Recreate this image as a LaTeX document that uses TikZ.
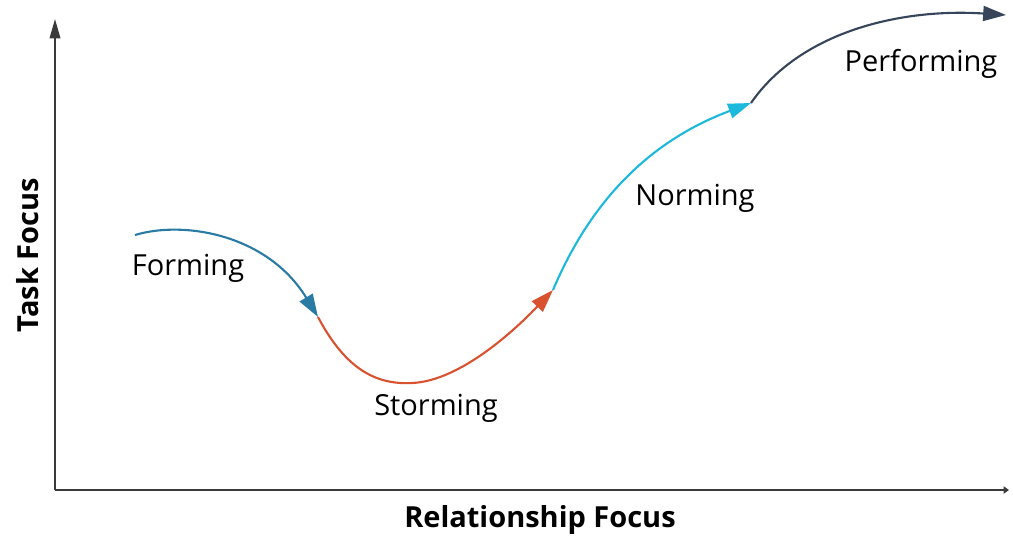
\documentclass[tikz,border=0pt]{standalone}
\usepackage{fontspec}
\setmainfont{Open Sans}
\usetikzlibrary{arrows.meta}
\definecolor{formC}{HTML}{2A7BA4}
\definecolor{stormC}{HTML}{D9522F}
\definecolor{normC}{HTML}{1DB9DC}
\definecolor{perfC}{HTML}{36455A}
\definecolor{axisC}{HTML}{3A3A3A}
\begin{document}
\begin{tikzpicture}[
    x=0.02cm, y=-0.02cm,
    every node/.style={font=\fontsize{16.5}{20}\selectfont},
    stage/.style={inner sep=0pt, anchor=center},
    axlabel/.style={inner sep=0pt, font=\fontsize{16.5}{20}\selectfont\bfseries},
    axis/.style={line width=1.1pt, draw=axisC},
    phase/.style={line width=1.2pt, -{Triangle[length=13pt,width=8.5pt]}}
]
  \useasboundingbox (0,0) rectangle (1013,538);

  % --- Axes ---
  \coordinate (origin) at (55,490);
  \coordinate (ytop)   at (55,19);
  \coordinate (xend)   at (1009,490);
  \draw[axis, -{Triangle[length=11pt,width=6pt]}] (origin) -- (ytop);
  \draw[axis, -{Triangle[length=3pt,width=4pt]}] (origin) -- (xend);

  \node[axlabel] (xlab) at (540,520) {Relationship Focus};
  \node[axlabel, rotate=90] (ylab) at (28,255) {Task Focus};

  % --- Curve points ---
  \coordinate (fStart) at (135,235);
  \coordinate (fEnd)   at (318,317);
  \coordinate (sLow)   at (412,383);
  \coordinate (sEnd)   at (553,290);
  \coordinate (nEnd)   at (751,103);
  \coordinate (pEnd)   at (1006,15);

  % --- Stage curves ---
  \draw[phase, formC] (fStart) .. controls (185,220) and (268,235) .. (fEnd);
  \draw[phase, stormC] (fEnd) .. controls (345,368) and (375,385) .. (sLow)
        .. controls (460,381) and (515,330) .. (sEnd);
  \draw[phase, normC] (sEnd) .. controls (592,198) and (652,140) .. (nEnd);
  \draw[phase, perfC] (nEnd) .. controls (800,32) and (900,8) .. (pEnd);

  % --- Stage labels ---
  \node[stage] (forming)    at (188,268) {Forming};
  \node[stage] (storming)   at (436,408) {Storming};
  \node[stage] (norming)    at (695,198) {Norming};
  \node[stage] (performing) at (921,64)  {Performing};
\end{tikzpicture}
\end{document}
